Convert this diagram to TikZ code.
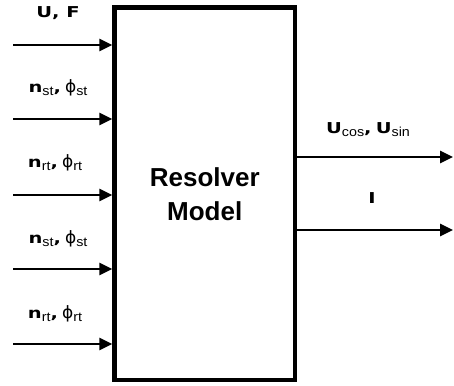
\documentclass[tikz,border=0pt]{standalone}
\usepackage{fontspec}
\setmainfont{Liberation Sans}
\newfontfamily\heavyfont{DejaVu Sans}
\usetikzlibrary{arrows.meta}

% heavy wide letters and plain subscripts of the signal labels
\newcommand{\hv}[1]{{\heavyfont\bfseries\scalebox{1.3}[1]{#1}}}
\newcommand{\sbs}[1]{\raisebox{-3pt}{\fontsize{13}{13}\selectfont\scalebox{1.1}[1]{#1}}}
\newcommand{\phisym}{{\heavyfont\fontsize{17}{17}\selectfont ϕ}}

\begin{document}
\begin{tikzpicture}[x=1pt,y=-1pt]
  \tikzstyle{block}=[draw,line width=4.5pt,minimum width=180.5pt,minimum height=372.5pt,
    inner sep=0pt,align=center,font=\fontsize{26}{30}\selectfont\bfseries]
  \tikzstyle{signal}=[line width=2.8pt,-{Triangle[length=13pt,width=12pt]}]
  \tikzstyle{lab}=[inner sep=0pt,font=\fontsize{15}{17}\selectfont]
  \useasboundingbox (0,0) rectangle (454,385);

  \node[block] (model) at (204.75,193.75) {Resolver\\[4pt]Model};

  \coordinate (in1) at (13,45);
  \coordinate (in2) at (13,119);
  \coordinate (in3) at (13,195);
  \coordinate (in4) at (13,269);
  \coordinate (in5) at (13,344);
  \coordinate (out1) at (453,157);
  \coordinate (out2) at (453,230);

  \node[lab] (L1) at (58,13)  {\hv{U, F}};
  \node[lab] (L2) at (58,88)  {\hv{n}\sbs{st}\hv{,} \phisym\sbs{st}};
  \node[lab] (L3) at (55,163) {\hv{n}\sbs{rt}\hv{,} \phisym\sbs{rt}};
  \node[lab] (L4) at (58,239) {\hv{n}\sbs{st}\hv{,} \phisym\sbs{st}};
  \node[lab] (L5) at (55,314) {\hv{n}\sbs{rt}\hv{,} \phisym\sbs{rt}};
  \node[lab] (L6) at (368,130) {\hv{U}\sbs{cos}\hv{,} \hv{U}\sbs{sin}};
  \node[lab] (L7) at (372,198) {\hv{I}};

  \draw[signal] (in1) -- (in1 -| model.west);
  \draw[signal] (in2) -- (in2 -| model.west);
  \draw[signal] (in3) -- (in3 -| model.west);
  \draw[signal] (in4) -- (in4 -| model.west);
  \draw[signal] (in5) -- (in5 -| model.west);
  \draw[signal] (out1 -| model.east) -- (out1);
  \draw[signal] (out2 -| model.east) -- (out2);
\end{tikzpicture}
\end{document}
